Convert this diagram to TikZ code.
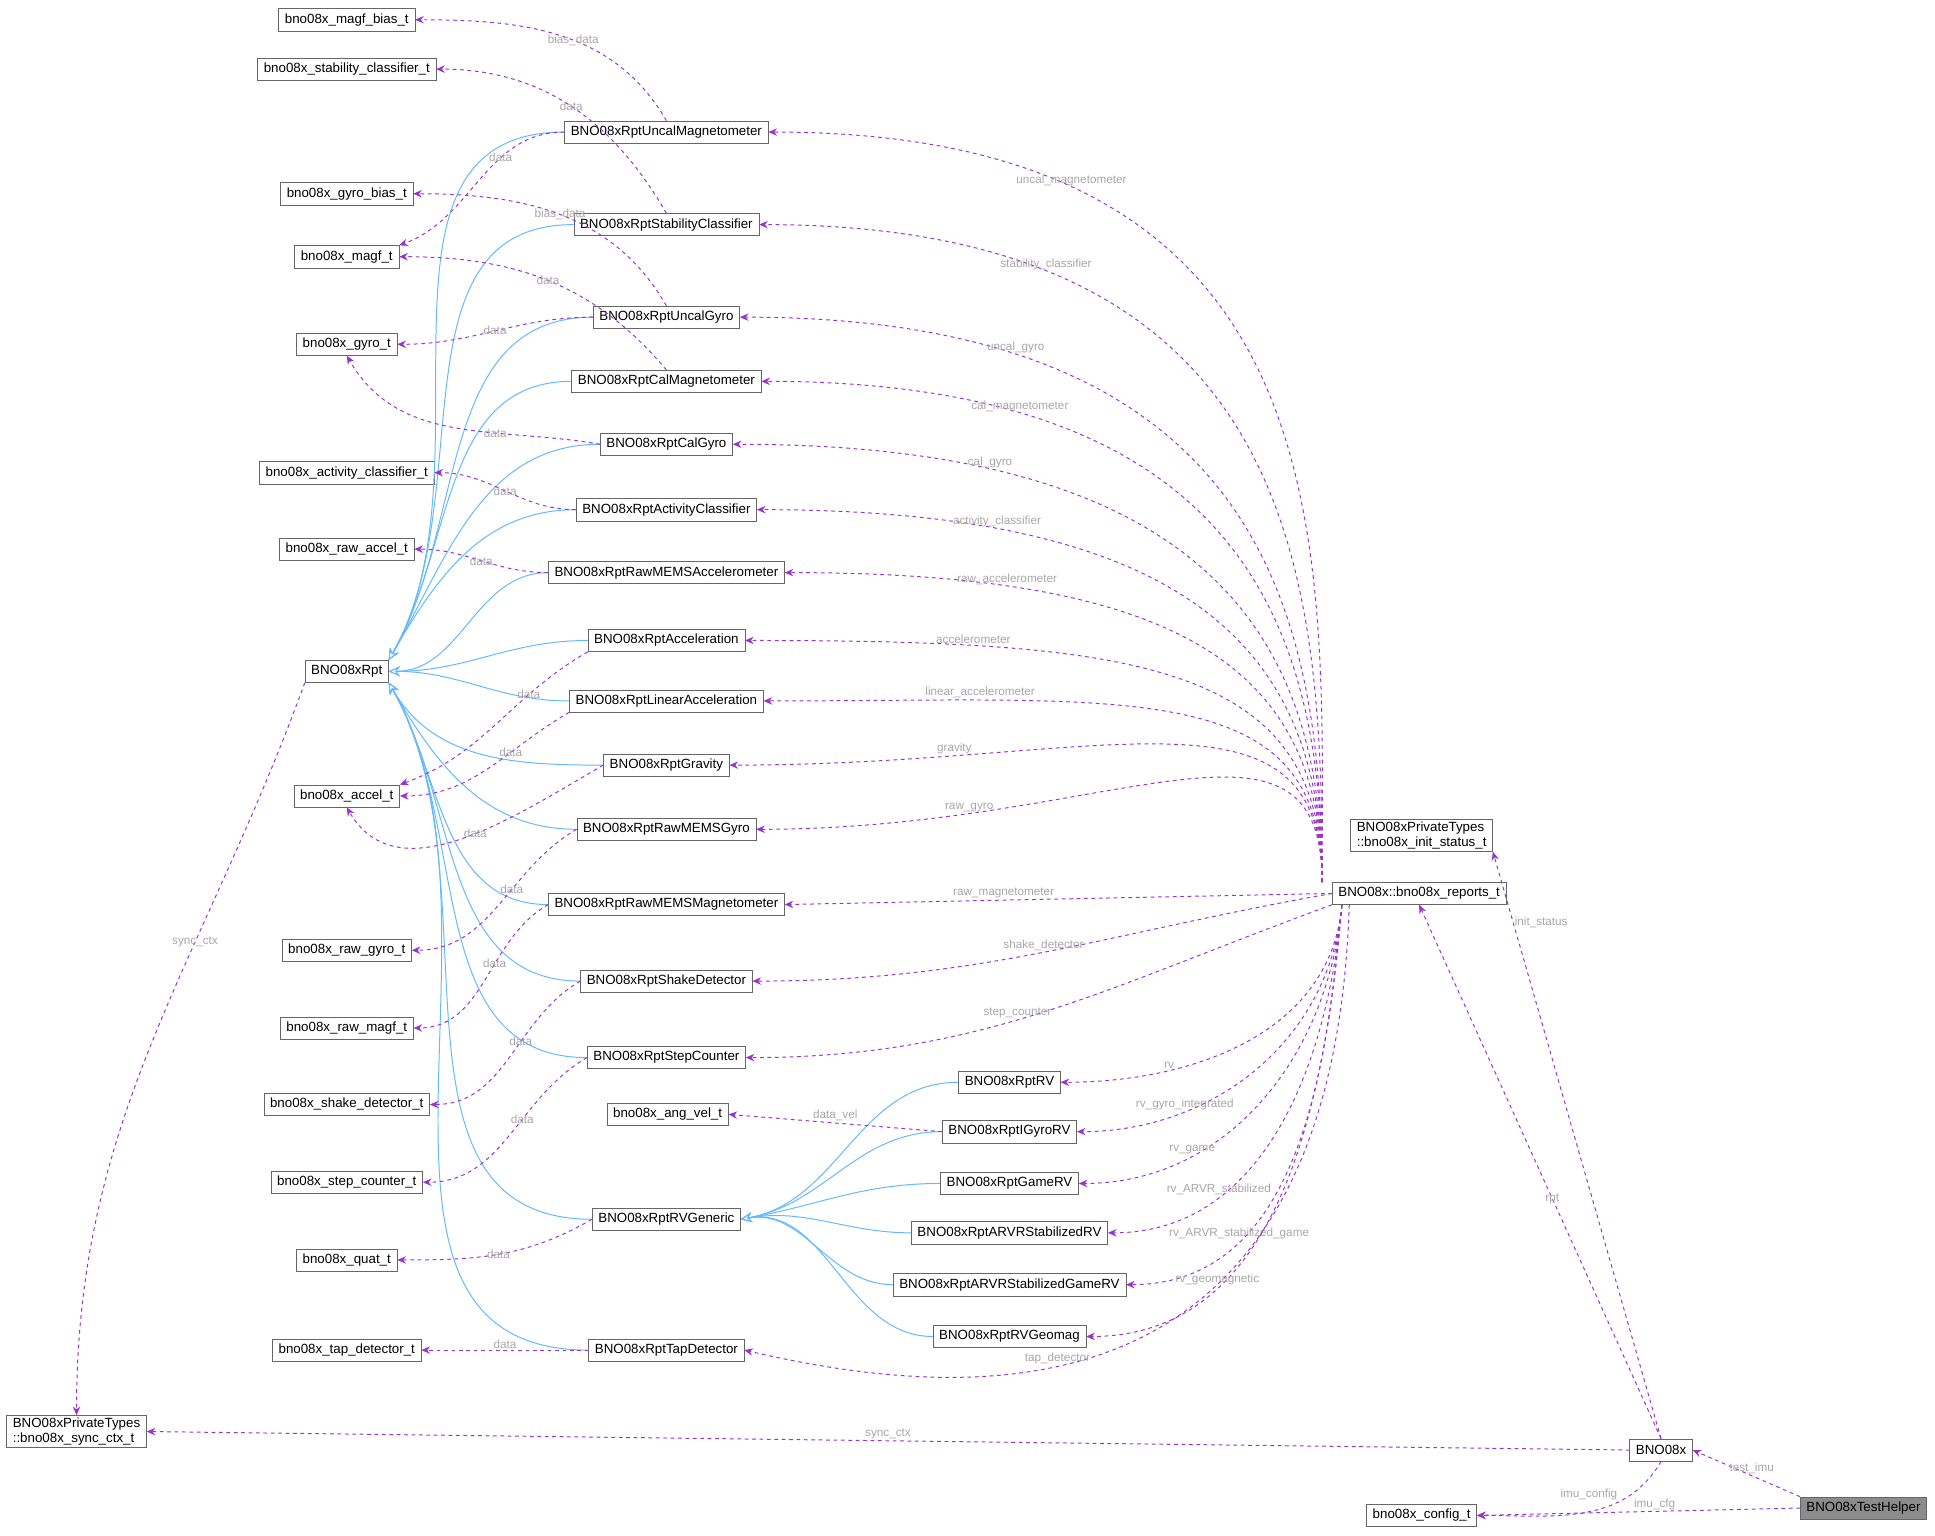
\documentclass[tikz,border=0pt]{standalone}
\usepackage{fontspec}
\setmainfont{Liberation Sans}
\usetikzlibrary{arrows.meta}
\definecolor{pur}{HTML}{9A32CD}
\definecolor{blu}{HTML}{63B8FF}
\begin{document}
\begin{tikzpicture}[x=1pt,y=-1pt,
 box/.style={draw=black!60,fill=white,font=\fontsize{10.8}{12}\selectfont,inner xsep=5pt,inner ysep=2pt,minimum height=18pt},
 dep/.style={draw=pur,dashed,line width=0.8pt,-{Stealth[length=7pt,width=6pt]}},
 inh/.style={draw=blu,line width=0.8pt,-{Stealth[open,length=9pt,width=8pt,fill=white]}},
 lbl/.style={text=black!35,font=\fontsize{9.5}{10}\selectfont,inner sep=1pt}]
\useasboundingbox (0,0) rectangle (1568,1244);
% left structs
\node[box] (magfb) at (281,16) {bno08x\_magf\_bias\_t};
\node[box] (stabt) at (281,56) {bno08x\_stability\_classifier\_t};
\node[box] (gyrob) at (281,157) {bno08x\_gyro\_bias\_t};
\node[box] (magft) at (281,208) {bno08x\_magf\_t};
\node[box] (gyrot) at (281,279) {bno08x\_gyro\_t};
\node[box] (actt) at (281,383) {bno08x\_activity\_classifier\_t};
\node[box] (rawacct) at (281,445) {bno08x\_raw\_accel\_t};
\node[box] (rpt) at (281,544) {BNO08xRpt};
\node[box] (accelt) at (281,645) {bno08x\_accel\_t};
\node[box] (rawgyrot) at (281,770) {bno08x\_raw\_gyro\_t};
\node[box] (rawmagft) at (281,833) {bno08x\_raw\_magf\_t};
\node[box] (shaket) at (281,895) {bno08x\_shake\_detector\_t};
\node[box] (stept) at (281,958) {bno08x\_step\_counter\_t};
\node[box] (quatt) at (281,1021) {bno08x\_quat\_t};
\node[box] (tapt) at (281,1094) {bno08x\_tap\_detector\_t};
\node[box,align=left] (sync) at (62,1160) {BNO08xPrivateTypes\\::bno08x\_sync\_ctx\_t};
% middle
\node[box] (um) at (540,107) {BNO08xRptUncalMagnetometer};
\node[box] (sc) at (540,182) {BNO08xRptStabilityClassifier};
\node[box] (ug) at (540,257) {BNO08xRptUncalGyro};
\node[box] (cm) at (540,309) {BNO08xRptCalMagnetometer};
\node[box] (cg) at (540,360) {BNO08xRptCalGyro};
\node[box] (ac) at (540,413) {BNO08xRptActivityClassifier};
\node[box] (rma) at (540,464) {BNO08xRptRawMEMSAccelerometer};
\node[box] (acc) at (540,519) {BNO08xRptAcceleration};
\node[box] (la) at (540,568) {BNO08xRptLinearAcceleration};
\node[box] (gr) at (540,620) {BNO08xRptGravity};
\node[box] (rmg) at (540,672) {BNO08xRptRawMEMSGyro};
\node[box] (rmm) at (540,733) {BNO08xRptRawMEMSMagnetometer};
\node[box] (sd) at (540,795) {BNO08xRptShakeDetector};
\node[box] (stc) at (540,857) {BNO08xRptStepCounter};
\node[box] (angv) at (541,903) {bno08x\_ang\_vel\_t};
\node[box] (gen) at (540,988) {BNO08xRptRVGeneric};
\node[box] (tap) at (540,1094) {BNO08xRptTapDetector};
% RV
\node[box] (rv) at (818,877) {BNO08xRptRV};
\node[box] (igrv) at (818,917) {BNO08xRptIGyroRV};
\node[box] (game) at (818,959) {BNO08xRptGameRV};
\node[box] (arvr) at (818,999) {BNO08xRptARVRStabilizedRV};
\node[box] (arvrg) at (818,1041) {BNO08xRptARVRStabilizedGameRV};
\node[box] (geo) at (818,1083) {BNO08xRptRVGeomag};
% right
\node[box] (rep) at (1150,724) {BNO08x::bno08x\_reports\_t};
\node[box,align=left] (init) at (1152,677) {BNO08xPrivateTypes\\::bno08x\_init\_status\_t};
\node[box] (bno) at (1346,1175) {BNO08x};
\node[box] (cfg) at (1152,1228) {bno08x\_config\_t};
\node[box,fill=black!45] (th) at (1510,1222) {BNO08xTestHelper};
% inheritance
\foreach \n in {um,sc,ug,cm,cg,ac}
  \draw[inh] (\n.west) to[out=180,in=60] (rpt.north east);
\foreach \n in {rma,acc,la}
  \draw[inh] (\n.west) to[out=180,in=0] (rpt.east);
\foreach \n in {gr,rmg,rmm,sd,stc,gen,tap}
  \draw[inh] (\n.west) to[out=180,in=-60] (rpt.south east);
\foreach \n in {rv,igrv,game,arvr,arvrg,geo}
  \draw[inh] (\n.west) to[out=180,in=10] (gen.east);
% data edges
\draw[dep] (um.north) to[out=120,in=0] node[lbl,pos=.45]{bias\_data} (magfb.east);
\draw[dep] (um.west) to[out=180,in=20] node[lbl,pos=.35]{data} (magft.north east);
\draw[dep] (sc.north) to[out=120,in=0] node[lbl,pos=.5]{data} (stabt.east);
\draw[dep] (ug.north) to[out=120,in=0] node[lbl,pos=.5]{bias\_data} (gyrob.east);
\draw[dep] (ug.west) to[out=180,in=0] node[lbl,pos=.5]{data} (gyrot.east);
\draw[dep] (cm.north) to[out=130,in=0] node[lbl,pos=.5]{data} (magft.east);
\draw[dep] (cg.west) to[out=170,in=-60] node[lbl,pos=.35]{data} (gyrot.south);
\draw[dep] (ac.west) to[out=180,in=0] node[lbl,pos=.5]{data} (actt.east);
\draw[dep] (rma.west) to[out=180,in=0] node[lbl,pos=.5]{data} (rawacct.east);
\draw[dep] (acc.south west) to[out=-150,in=20] node[lbl,pos=.3]{data} (accelt.north east);
\draw[dep] (la.south west) to[out=-150,in=0] node[lbl,pos=.35]{data} (accelt.east);
\draw[dep] (gr.west) to[out=-150,in=-60] node[lbl,pos=.45]{data} (accelt.south);
\draw[dep] (rmg.west) to[out=-150,in=0] node[lbl,pos=.4]{data} (rawgyrot.east);
\draw[dep] (rmm.west) to[out=-150,in=0] node[lbl,pos=.4]{data} (rawmagft.east);
\draw[dep] (sd.west) to[out=-150,in=0] node[lbl,pos=.4]{data} (shaket.east);
\draw[dep] (stc.west) to[out=-150,in=0] node[lbl,pos=.4]{data} (stept.east);
\draw[dep] (gen.west) to[out=-150,in=0] node[lbl,pos=.5]{data} (quatt.east);
\draw[dep] (tap.west) -- node[lbl,above]{data} (tapt.east);
\draw[dep] (igrv.west) -- node[lbl,above]{data\_vel} (angv.east);
\draw[dep] (rpt.south west) to[out=-110,in=90] node[lbl,pos=.35]{sync\_ctx} (sync.north);
% reports edges
\foreach \n/\t in {um/uncal\_magnetometer,sc/stability\_classifier,ug/uncal\_gyro,cm/cal\_magnetometer,cg/cal\_gyro,ac/activity\_classifier,rma/raw\_accelerometer,acc/accelerometer,la/linear\_accelerometer,gr/gravity,rmg/raw\_gyro}
  \draw[dep] ([xshift=-8pt]rep.north west) to[out=90,in=0,out looseness=0.9,in looseness=1.6] node[lbl,pos=.78,above]{\t} (\n.east);
\draw[dep] (rep.west) -- node[lbl,pos=.6,above]{raw\_magnetometer} (rmm.east);
\draw[dep] (rep.west) to[out=190,in=0] node[lbl,pos=.5,above]{shake\_detector} (sd.east);
\draw[dep] (rep.south west) to[out=200,in=0] node[lbl,pos=.55,above]{step\_counter} (stc.east);
\foreach \n/\t in {rv/rv,igrv/rv\_gyro\_integrated,game/rv\_game,arvr/rv\_ARVR\_stabilized,arvrg/rv\_ARVR\_stabilized\_game,geo/rv\_geomagnetic}
  \draw[dep] ([xshift=8pt]rep.south west) to[out=-95,in=0] node[lbl,pos=.72,above]{\t} (\n.east);
\draw[dep] ([xshift=14pt]rep.south west) .. controls (1080,1150) and (800,1140) .. node[lbl,pos=.6,above]{tap\_detector} (tap.east);
% BNO08x edges
\draw[dep] (bno.north) -- node[lbl,pos=.45]{rpt} (rep.south);
\draw[dep] (bno.north) -- node[lbl,pos=.88,right]{init\_status} (init.south east);
\draw[dep] (bno.west) -- node[lbl,above]{sync\_ctx} (sync.east);
\draw[dep] (bno.south) to[out=-120,in=0] node[lbl,pos=.3,above left]{imu\_config} (cfg.east);
\draw[dep] (th.north west) -- node[lbl,pos=.45,above]{test\_imu} (bno.east);
\draw[dep] (th.west) -- node[lbl,pos=.45,above]{imu\_cfg} (cfg.east);
\end{tikzpicture}
\end{document}
